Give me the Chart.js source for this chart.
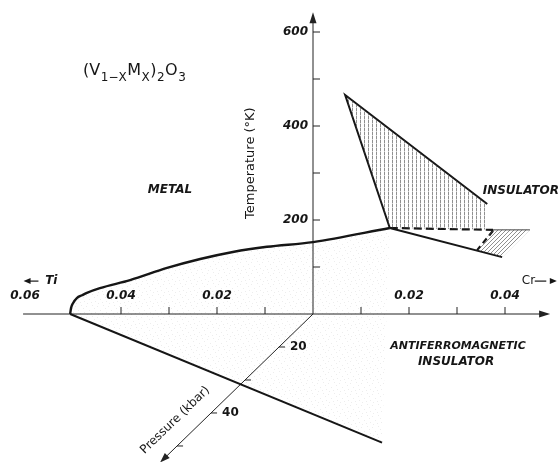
<!DOCTYPE html>
<html>
<head>
<meta charset="utf-8">
<script src="https://cdn.jsdelivr.net/npm/chart.js@4.4.1/dist/chart.umd.min.js"></script>
<style>
  html, body { margin: 0; padding: 0; background: #fff; }
  canvas { display: block; }
</style>
</head>
<body>
<canvas id="c" width="560" height="462"></canvas>
<script>
// Composition axis: negative values = Ti fraction x, positive values = Cr fraction x
const compTicks = [-0.04, -0.03, -0.02, -0.01, 0.01, 0.02, 0.03, 0.04];
const compLabelValues = [-0.06, -0.04, -0.02, 0.02, 0.04];
const compLabelTexts = ['0.06', '0.04', '0.02', '0.02', '0.04'];

// Temperature axis (K)
const tempTicks = [100, 200, 300, 400, 500, 600];
const tempLabels = [200, 400, 600];

// Pressure axis (kbar), drawn in perspective; its foot sits at pressureOrigin
const pressureOrigin = 10;
const pressureTicks = [20, 30, 40, 50];
const pressureLabels = [20, 40];
const pressureEnd = 55;

// Metal-insulator boundary in the temperature-composition plane
const mitComp = [-0.0506, -0.0504, -0.0500, -0.0492, -0.0481, -0.0471, -0.0444, -0.0381, -0.0304, -0.0235, -0.0167, -0.0096, 0, 0.0160];
const mitTemp = [0, 13, 23, 34, 40, 45, 55, 72, 98, 117, 132, 143, 153, 183];

// Critical point where the first-order line ends
const criticalComp = 0.0160;
const criticalTemp = 183;

// Paramagnetic insulator crossover wedge (hatched)
const wedgeComp = [0.0067, 0.0363, 0.0363];
const wedgeTemp = [466, 234, 180];

// Dashed transition line and its thin continuation
const dashComp = [0.0160, 0.0375];
const dashTemp = [183, 179];
const thinComp = [0.0375, 0.0452];
const thinTemp = [179, 179];

// Insulator - antiferromagnetic insulator boundary
const afiComp = [0.0160, 0.0394];
const afiTemp = [183, 121];

// Dashed diagonal bounding the small hatched region
const diagComp = [0.0375, 0.0342];
const diagTemp = [177, 136];
const smallHatchComp = [0.0375, 0.0452, 0.0394, 0.0342];
const smallHatchTemp = [179, 179, 121, 136];

// Metal - antiferromagnetic insulator boundary in the pressure-composition plane
const pressLineComp = [-0.0506, 0.0420];
const pressLineP = [10, 49];

// Perspective of the pressure axis: shift per kbar in composition and temperature units
const P_DX = -0.000708;
const P_DY = -7.02;
const project = (c, p) => ({ x: c + (p - pressureOrigin) * P_DX, y: (p - pressureOrigin) * P_DY });
const pts = (xs, ys) => xs.map((x, i) => ({ x, y: ys[i] }));

const FAM = "'DejaVu Sans', sans-serif";
const INK = '#161616';

function makePattern(w, h, draw) {
  const c = document.createElement('canvas');
  c.width = w; c.height = h;
  const g = c.getContext('2d');
  draw(g);
  return g.createPattern(c, 'repeat');
}
const vHatch = makePattern(4, 4, g => {
  g.fillStyle = 'rgba(70,70,70,0.6)'; g.fillRect(0, 0, 1, 3);
  g.fillStyle = 'rgba(70,70,70,0.25)'; g.fillRect(0, 3, 1, 1);
});
const dHatch = makePattern(4, 4, g => {
  g.fillStyle = 'rgba(70,70,70,0.6)';
  for (let i = 0; i < 4; i++) g.fillRect(i, 3 - i, 1, 1);
});
const stipple = makePattern(11, 11, g => {
  g.fillStyle = 'rgba(0,0,0,0.07)';
  [[1, 2], [7, 4], [4, 8], [9, 9], [3, 5], [6, 0], [10, 6]].forEach(([a, b]) => g.fillRect(a, b, 1, 1));
});

const mitPts = pts(mitComp, mitTemp);
const critical = { x: criticalComp, y: criticalTemp };
const pressLine = pressLineComp.map((c, i) => project(c, pressLineP[i]));
const metalRegion = mitPts.concat([pressLine[1], pressLine[0]]);
const wedgePts = pts(wedgeComp, wedgeTemp);

const lineSet = (data, extra) => Object.assign({
  data, showLine: true, borderColor: INK, borderWidth: 2, pointRadius: 0, fill: false
}, extra || {});
const fillSet = (data, pattern) => ({
  data, showLine: true, borderWidth: 0, borderColor: 'rgba(0,0,0,0)', pointRadius: 0,
  backgroundColor: pattern, fill: 'shape'
});

function arrowHead(ctx, fx, fy, tx, ty, len, half) {
  const a = Math.atan2(ty - fy, tx - fx);
  ctx.beginPath();
  ctx.moveTo(tx, ty);
  ctx.lineTo(tx - len * Math.cos(a) + half * Math.sin(a), ty - len * Math.sin(a) - half * Math.cos(a));
  ctx.lineTo(tx - len * Math.cos(a) - half * Math.sin(a), ty - len * Math.sin(a) + half * Math.cos(a));
  ctx.closePath();
  ctx.fill();
}
function seg(ctx, ax, ay, bx, by) {
  ctx.beginPath(); ctx.moveTo(ax, ay); ctx.lineTo(bx, by); ctx.stroke();
}

const axesPlugin = {
  id: 'axesPlugin',
  beforeDatasetsDraw(chart) {
    const { ctx, scales: { x, y } } = chart;
    const X = v => x.getPixelForValue(v), Y = v => y.getPixelForValue(v);
    const x0 = X(0), y0 = Y(0);
    ctx.save();
    ctx.strokeStyle = '#222'; ctx.fillStyle = '#222'; ctx.lineWidth = 1;

    // composition axis
    seg(ctx, X(-0.0604), y0, X(0.0488), y0);
    arrowHead(ctx, X(0), y0, X(0.0494), y0, 11, 3.5);
    compTicks.forEach(v => seg(ctx, X(v), y0, X(v), y0 - 7));

    // temperature axis
    seg(ctx, x0, y0, x0, Y(630));
    arrowHead(ctx, x0, y0, x0, Y(642), 11, 3.5);
    tempTicks.forEach(t => seg(ctx, x0, Y(t), x0 + 7, Y(t)));

    // pressure axis
    const pA = project(0, pressureOrigin), pB = project(0, pressureEnd - 1.5), pT = project(0, pressureEnd);
    seg(ctx, X(pA.x), Y(pA.y), X(pB.x), Y(pB.y));
    arrowHead(ctx, X(pA.x), Y(pA.y), X(pT.x), Y(pT.y), 10, 3.5);
    pressureTicks.forEach(p => {
      const q = project(0, p);
      seg(ctx, X(q.x), Y(q.y), X(q.x) + 6, Y(q.y));
    });
    ctx.restore();
  },
  afterDatasetsDraw(chart) {
    const { ctx, scales: { x, y } } = chart;
    const X = v => x.getPixelForValue(v), Y = v => y.getPixelForValue(v);
    const x0 = X(0), y0 = Y(0);
    ctx.save();
    ctx.fillStyle = INK; ctx.strokeStyle = INK;

    // tick labels
    ctx.font = `italic bold 12px ${FAM}`;
    ctx.textAlign = 'center'; ctx.textBaseline = 'middle';
    compLabelValues.forEach((v, i) => ctx.fillText(compLabelTexts[i], X(v), y0 - 18));
    ctx.textAlign = 'right';
    tempLabels.forEach(t => ctx.fillText(String(t), x0 - 5, Y(t)));
    ctx.font = `bold 12px ${FAM}`;
    ctx.textAlign = 'left';
    pressureLabels.forEach(p => {
      const q = project(0, p);
      ctx.fillText(String(p), X(q.x) + 11, Y(q.y));
    });

    // dopant direction markers
    ctx.font = `italic bold 12px ${FAM}`;
    ctx.textAlign = 'left';
    ctx.fillText('Ti', X(-0.0558), Y(70));
    ctx.lineWidth = 1.2;
    seg(ctx, X(-0.0592), Y(70), X(-0.0572), Y(70));
    arrowHead(ctx, X(-0.0570), Y(70), X(-0.0603), Y(70), 7, 3);
    ctx.font = `12px ${FAM}`;
    ctx.fillText('Cr', X(0.0435), Y(70));
    seg(ctx, X(0.0462), Y(70), X(0.0486), Y(70));
    arrowHead(ctx, X(0.0462), Y(70), X(0.0508), Y(70), 7, 3);

    // axis titles
    ctx.font = `13px ${FAM}`;
    ctx.textAlign = 'center';
    ctx.save();
    ctx.translate(X(-0.0129), Y(321));
    ctx.rotate(-Math.PI / 2);
    ctx.fillText('Temperature (°K)', 0, 0);
    ctx.restore();
    ctx.font = `12px ${FAM}`;
    ctx.save();
    ctx.translate(X(-0.0287), Y(-226));
    ctx.rotate(-44 * Math.PI / 180);
    ctx.fillText('Pressure (kbar)', 0, 0);
    ctx.restore();

    // phase names
    ctx.font = `italic bold 12px ${FAM}`;
    ctx.fillText('METAL', X(-0.0298), Y(264));
    ctx.fillText('INSULATOR', X(0.0433), Y(262));
    ctx.font = `italic bold 11px ${FAM}`;
    ctx.fillText('ANTIFERROMAGNETIC', X(0.0302), Y(-68));
    ctx.font = `italic bold 12px ${FAM}`;
    ctx.fillText('INSULATOR', X(0.0298), Y(-102));

    // compound formula
    ctx.textAlign = 'left'; ctx.textBaseline = 'alphabetic';
    const parts = [['(V', 0], ['1\u2212X', 1], ['M', 0], ['X', 1], [')', 0], ['2', 1], ['O', 0], ['3', 1]];
    let cx = X(-0.0479);
    const by = Y(508);
    parts.forEach(([t, sub]) => {
      ctx.font = sub ? `12px ${FAM}` : `16px ${FAM}`;
      ctx.fillText(t, cx, by + (sub ? 6 : 0));
      cx += ctx.measureText(t).width + 0.5;
    });
    ctx.restore();
  }
};

new Chart(document.getElementById('c'), {
  type: 'scatter',
  data: {
    datasets: [
      fillSet(metalRegion, stipple),
      fillSet(wedgePts.concat([critical]), vHatch),
      fillSet(pts(smallHatchComp, smallHatchTemp), dHatch),
      lineSet(mitPts, { cubicInterpolationMode: 'monotone', borderWidth: 2.4 }),
      lineSet(pressLine),
      lineSet([critical, wedgePts[0], wedgePts[1]]),
      lineSet(pts(dashComp, dashTemp), { borderDash: [8, 4], borderWidth: 2.2 }),
      lineSet(pts(thinComp, thinTemp), { borderWidth: 1, borderColor: '#444' }),
      lineSet(pts(afiComp, afiTemp)),
      lineSet(pts(diagComp, diagTemp), { borderDash: [6, 4], borderWidth: 2.2 })
    ]
  },
  options: {
    responsive: false,
    animation: false,
    events: [],
    layout: { padding: 0 },
    plugins: { legend: { display: false }, tooltip: { enabled: false } },
    elements: { point: { radius: 0 } },
    scales: {
      x: { type: 'linear', display: false, min: -313 / 4800, max: 247 / 4800 },
      y: { type: 'linear', display: false, min: -148 / 0.47, max: 314 / 0.47 }
    }
  },
  plugins: [axesPlugin]
});
</script>
</body>
</html>
